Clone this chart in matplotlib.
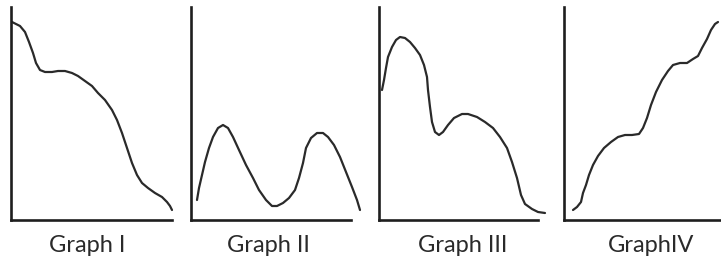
import matplotlib
matplotlib.use('Agg')
import matplotlib.pyplot as plt

# values (x from the y-axis, y up from the x-axis, in px units)
g1_x = [1, 9, 14, 18, 22, 25, 29, 34, 41, 47, 54, 61, 67, 74, 81, 87, 94, 101, 106, 111,
        116, 121, 126, 131, 137, 144, 151, 156, 159, 161]
g1_y = [198, 194, 188, 178, 167, 157, 150, 148, 148, 149, 149, 147, 144, 139, 134, 127, 120, 110, 100, 87,
        72, 57, 45, 37, 32, 27, 23, 18, 14, 10]

g2_x = [6, 8, 11, 14, 18, 22, 27, 32, 37, 42, 48, 55, 62, 68, 75, 81, 86, 92, 98, 104, 108,
        112, 115, 120, 126, 132, 137, 143, 149, 155, 161, 166, 169]
g2_y = [20, 32, 45, 58, 72, 83, 92, 95, 92, 83, 70, 55, 42, 30, 20, 14, 14, 17, 22, 30, 42,
        57, 72, 82, 87, 87, 83, 75, 63, 48, 33, 20, 10]

g3_x = [3, 5, 7, 9, 13, 17, 21, 26, 31, 36, 41, 45, 48, 49, 51, 53, 56, 60, 64, 69, 75, 83,
        89, 98, 106, 114, 121, 128, 133, 138, 142, 146, 153, 159, 166]
g3_y = [130, 140, 152, 163, 173, 180, 183, 182, 178, 172, 165, 155, 143, 130, 113, 98, 88, 85, 88, 95, 102, 106,
        106, 103, 98, 92, 83, 72, 58, 42, 25, 16, 11, 8, 7]

g4_x = [9, 13, 17, 19, 22, 25, 29, 34, 40, 47, 54, 61, 68, 75, 79, 83, 87, 92, 98, 104,
        109, 116, 123, 129, 134, 138, 143, 147, 151, 154]
g4_y = [10, 13, 18, 27, 35, 45, 55, 64, 72, 78, 83, 85, 85, 86, 92, 102, 115, 128, 140, 149,
        155, 157, 157, 161, 164, 172, 181, 190, 196, 198]

labels = ['Graph I', 'Graph II', 'Graph III', 'GraphIV']

W, H = 721, 265
fig = plt.figure(figsize=(W / 100, H / 100), dpi=100)

# (left px, x-axis end px, axes box width px, label centre px)
boxes = [(11, 172, 165, 87), (191, 351, 172, 268), (379, 538, 168, 463), (564, 721, 157, 651)]
series = [(g1_x, g1_y), (g2_x, g2_y), (g3_x, g3_y), (g4_x, g4_y)]
top, bot = 7, 220

for (left, xend, bw, lc), (xs, ys), lab in zip(boxes, series, labels):
    ax = fig.add_axes([left / W, (H - bot) / H, bw / W, (bot - top) / H])
    ax.plot(xs, ys, color='#2a2a2a', lw=1.6, solid_joinstyle='round', solid_capstyle='round')
    ax.set_xlim(0, bw)
    ax.set_ylim(0, bot - top)
    ax.spines['top'].set_visible(False)
    ax.spines['right'].set_visible(False)
    for s in ['left', 'bottom']:
        ax.spines[s].set_linewidth(1.9)
        ax.spines[s].set_color('#1e1e1e')
    ax.spines['bottom'].set_bounds(0, xend - left)
    ax.set_xticks([])
    ax.set_yticks([])
    ax.patch.set_alpha(0)
    fig.text(lc / W, 1 - 252 / H, lab, ha='center', va='baseline',
             fontsize=17, family=['Liberation Sans Narrow', 'Lato'], color='#2a2a2a')

fig.savefig('out.png', dpi=100)
